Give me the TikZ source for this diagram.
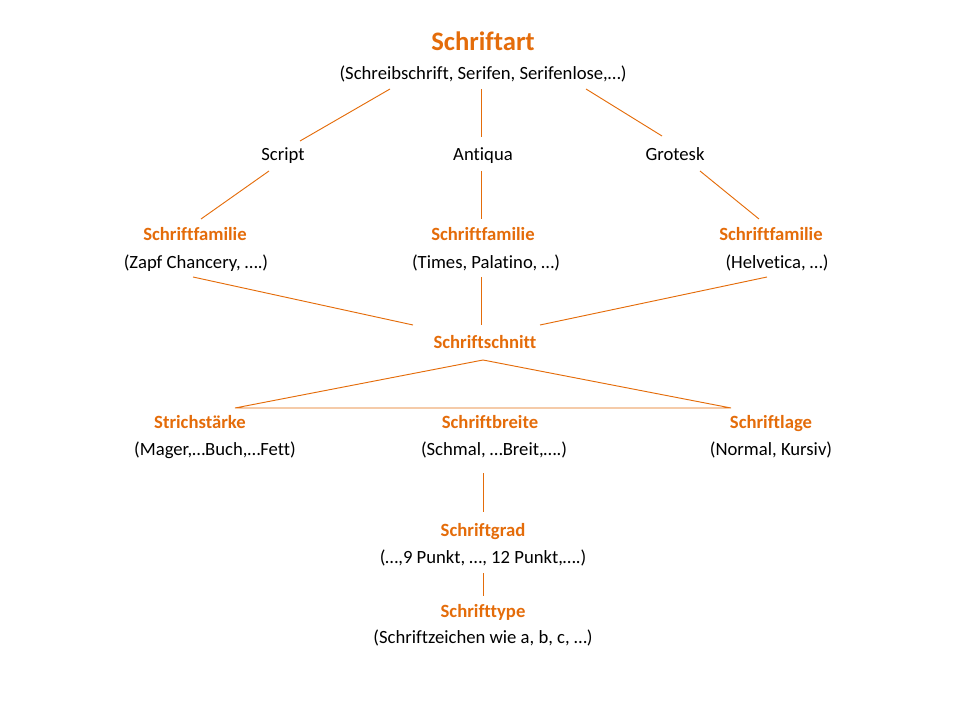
\documentclass[tikz,border=0pt]{standalone}
\usepackage{fontspec}
\setmainfont[Ligatures={NoCommon}]{Carlito}
\definecolor{typeorange}{RGB}{228,108,10}
\tikzset{
    title/.style = {
        font=\fontsize{20}{24}\selectfont\bfseries,
        text=typeorange,
        inner sep=0pt,
        text height=0.7em,
        text depth=0pt,
        },
    level/.style = {
        font=\fontsize{14}{17}\selectfont\bfseries,
        text=typeorange,
        inner sep=0pt,
        text height=0.7em,
        text depth=0pt,
        },
    kind/.style = {
        font=\fontsize{14}{17}\selectfont,
        text=black,
        inner sep=0pt,
        text height=0.7em,
        text depth=0pt,
        },
    info/.style = {
        font=\fontsize{14}{17}\selectfont,
        text=black,
        inner sep=0pt,
        },
    link/.style = {
        draw=typeorange,
        line width=0.7pt,
        },
}
\begin{document}
\begin{tikzpicture}[x=0.75pt,y=-0.75pt]
    \useasboundingbox (0,0) rectangle (960,720);
    % Schriftart
    \node [title] (art) at (483,46) {Schriftart};
    \node [info] (artx) at (483,74) {(Schreibschrift, Serifen, Serifenlose,\dots)};
    % Klassen
    \node [kind] (script) at (283,156) {Script};
    \node [kind] (antiqua) at (483,156) {Antiqua};
    \node [kind] (grotesk) at (675,156) {Grotesk};
    % Familien
    \node [level] (famA) at (195,236) {Schriftfamilie};
    \node [info] (famAx) at (196,263) {(Zapf Chancery, \dots.)};
    \node [level] (famB) at (483,236) {Schriftfamilie};
    \node [info] (famBx) at (486,263) {(Times, Palatino, \dots)};
    \node [level] (famC) at (771,236) {Schriftfamilie};
    \node [info] (famCx) at (777,263) {(Helvetica, \dots)};
    % Schnitt
    \node [level] (schnitt) at (485,344) {Schriftschnitt};
    \node [level] (staerke) at (200,424) {Strichstärke};
    \node [info] (staerkex) at (215,450) {(Mager,\dots Buch,\dots Fett)};
    \node [level] (breite) at (490,424) {Schriftbreite};
    \node [info] (breitex) at (494,450) {(Schmal, \dots Breit,\dots.)};
    \node [level] (lage) at (771,424) {Schriftlage};
    \node [info] (lagex) at (771,450) {(Normal, Kursiv)};
    % Grad und Type
    \node [level] (grad) at (483,532) {Schriftgrad};
    \node [info] (gradx) at (483,558) {(\dots,9 Punkt, \dots, 12 Punkt,\dots.)};
    \node [level] (type) at (483,613) {Schrifttype};
    \node [info] (typex) at (483,638) {(Schriftzeichen wie a, b, c, \dots)};

    % Linienenden
    \coordinate (a1) at (390,89);  \coordinate (s1) at (300,141);
    \coordinate (a2) at (481,89);  \coordinate (s2) at (481,137);
    \coordinate (a3) at (586,89);  \coordinate (s3) at (662,136);
    \coordinate (s4) at (269,171); \coordinate (f1) at (201,219);
    \coordinate (s5) at (481,171); \coordinate (f2) at (481,219);
    \coordinate (s6) at (700,171); \coordinate (f3) at (759,219);
    \coordinate (f4) at (193,277); \coordinate (n1) at (413,325);
    \coordinate (f5) at (481,277); \coordinate (n2) at (481,325);
    \coordinate (f6) at (767,277); \coordinate (n3) at (540,325);
    \coordinate (top) at (483,360);
    \coordinate (left) at (235,408); \coordinate (right) at (731,408);
    \coordinate (b1) at (483,473); \coordinate (g1) at (483,512);
    \coordinate (g2) at (483,573); \coordinate (t1) at (483,596);

    \draw [link] (a1) -- (s1);
    \draw [link] (a2) -- (s2);
    \draw [link] (a3) -- (s3);
    \draw [link] (s4) -- (f1);
    \draw [link] (s5) -- (f2);
    \draw [link] (s6) -- (f3);
    \draw [link] (f4) -- (n1);
    \draw [link] (f5) -- (n2);
    \draw [link] (f6) -- (n3);
    \draw [link] (top) -- (left) -- (right) -- cycle;
    \draw [link] (b1) -- (g1);
    \draw [link] (g2) -- (t1);
\end{tikzpicture}
\end{document}
